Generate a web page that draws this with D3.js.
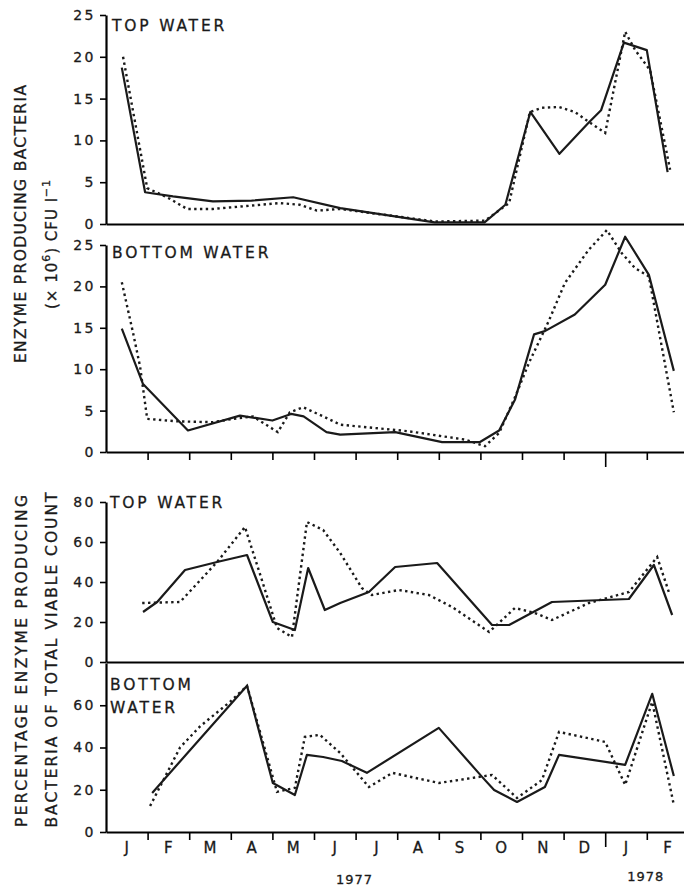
<!DOCTYPE html>
<html>
<head>
<meta charset="utf-8">
<script src="https://cdn.jsdelivr.net/npm/d3@7"></script>
<style>
  body { margin: 0; background: #fff; }
  svg { display: block; font-family: 'DejaVu Sans', sans-serif; }
  svg text { stroke: #1a1a1a; stroke-width: 0.3px; }
</style>
</head>
<body>
<svg id="chart" width="684" height="888"></svg>
<script>
const monthLabels = ['J', 'F', 'M', 'A', 'M', 'J', 'J', 'A', 'S', 'O', 'N', 'D', 'J', 'F'];
const yearLabels = [{ label: '1977', month: 6 }, { label: '1978', month: 13 }];
const cfuTicks = [0, 5, 10, 15, 20, 25];
const pctTopTicks = [0, 20, 40, 60, 80];
const pctBottomTicks = [0, 20, 40, 60];

// [month, value]  month 0 = start of Jan 1977
const cfuTopSolid = [[0.38, 18.7], [0.94, 3.8], [1.61, 3.3], [2.57, 2.7], [3.5, 2.8], [4.5, 3.2], [5.63, 1.9],
    [7.9, 0.2], [9.1, 0.2], [9.6, 2.3], [10.2, 13.4], [10.9, 8.4], [11.6, 12.1], [11.9, 13.6],
    [12.45, 21.7], [13.0, 20.8], [13.5, 6.2]];
const cfuTopDotted = [[0.41, 20.0], [0.99, 4.3], [1.25, 3.7], [1.54, 3.0], [1.95, 1.8], [2.57, 1.8], [4.18, 2.5],
    [4.66, 2.3], [5.07, 1.6], [5.63, 1.8], [7.91, 0.3], [9.11, 0.4], [9.69, 2.5], [10.19, 13.4],
    [10.48, 13.9], [10.89, 14.0], [11.27, 13.4], [11.61, 12.2], [12.0, 10.9], [12.48, 23.0],
    [12.72, 20.8], [13.08, 18.4], [13.56, 6.5]];
const cfuBottomSolid = [[0.38, 14.9], [0.89, 8.2], [1.97, 2.6], [3.22, 4.4], [4.0, 3.8], [4.45, 4.6], [4.75, 4.3],
    [5.3, 2.4], [5.63, 2.1], [6.95, 2.4], [8.08, 1.2], [8.99, 1.2], [9.45, 2.6], [9.83, 6.3],
    [10.29, 14.2], [10.55, 14.6], [11.27, 16.6], [12.0, 20.2], [12.48, 26.0], [13.05, 21.4], [13.65, 9.8]];
const cfuBottomDotted = [[0.38, 20.5], [0.65, 14.4], [0.82, 10.3], [0.99, 4.0], [1.71, 3.7], [2.57, 3.6],
    [3.05, 4.0], [3.53, 4.3], [4.13, 2.4], [4.42, 4.8], [4.74, 5.4], [5.22, 4.3], [5.63, 3.3],
    [7.28, 2.5], [8.63, 1.5], [9.11, 0.7], [9.45, 2.3], [9.83, 6.6], [10.17, 10.8], [10.65, 15.9],
    [11.03, 20.4], [11.6, 24.4], [12.04, 26.8], [12.4, 24.0], [12.72, 22.2], [13.05, 21.2], [13.65, 4.8]];
const pctTopSolid = [[0.89, 25], [1.23, 30], [1.9, 46], [2.67, 50], [3.39, 53.5], [4.01, 20], [4.54, 16],
    [4.86, 47], [5.26, 26], [5.63, 29.5], [6.32, 35], [6.95, 47.5], [7.96, 49.5], [9.28, 18.5],
    [9.69, 18.5], [10.72, 30], [12.57, 31.5], [13.17, 48.5], [13.61, 23.5]];
const pctTopDotted = [[0.87, 29.5], [1.78, 30], [2.67, 50], [3.34, 67.5], [3.77, 39.5], [4.11, 17], [4.47, 12.5],
    [4.83, 70], [5.22, 66], [5.63, 54.5], [6.15, 37], [6.39, 33.5], [7.04, 36], [7.76, 33.5],
    [8.32, 27.5], [9.21, 15], [9.83, 27], [10.31, 24.5], [10.72, 21], [11.61, 29.5], [12.57, 35],
    [13.25, 52.5], [13.53, 35]];
const pctBottomSolid = [[1.11, 18.5], [3.39, 69.2], [4.01, 23.2], [4.54, 17.5], [4.83, 36.5], [5.22, 35.5],
    [5.67, 33.6], [6.27, 28.0], [8.0, 49.3], [9.04, 26.1], [9.33, 19.9], [9.88, 14.2], [10.55, 21.3],
    [10.89, 36.5], [12.48, 31.8], [13.13, 65.4], [13.65, 26.5]];
const pctBottomDotted = [[1.06, 12.3], [1.78, 40], [2.26, 50], [2.98, 61.6], [3.39, 69.2], [4.11, 19], [4.54, 20.9],
    [4.78, 45], [5.14, 46], [5.63, 37.4], [6.32, 21.3], [6.88, 28], [8.0, 23.2], [9.28, 27],
    [9.88, 16.1], [10.48, 24.6], [10.89, 47.4], [12.0, 42.6], [12.48, 22.3], [13.13, 61.6], [13.65, 12.8]];

const svg = d3.select('#chart');
const x = d3.scaleLinear().domain([0, 14]).range([106, 688.4]);

const panels = [
    { titles: [['TOP WATER', 112, 31]], solid: cfuTopSolid, dotted: cfuTopDotted, ticks: cfuTicks,
      max: 25, top: 15, bottom: 224, monthTicks: false },
    { titles: [['BOTTOM WATER', 112, 258]], solid: cfuBottomSolid, dotted: cfuBottomDotted, ticks: cfuTicks,
      max: 25, top: 245, bottom: 452, monthTicks: true },
    { titles: [['TOP WATER', 110, 508]], solid: pctTopSolid, dotted: pctTopDotted, ticks: pctTopTicks,
      max: 80, top: 502, bottom: 662, monthTicks: false },
    { titles: [['BOTTOM', 110, 690], ['WATER', 110, 713]], solid: pctBottomSolid, dotted: pctBottomDotted,
      ticks: pctBottomTicks, max: 80, top: 663, bottom: 832, monthTicks: true }
];

const drawPanel = (p) => {
    const y = d3.scaleLinear().domain([0, p.max]).range([p.bottom, p.top]);

    // y axis
    const yAxis = svg.append('g')
        .attr('transform', `translate(${x(0)},0)`)
        .call(d3.axisLeft(y).tickValues(p.ticks).tickSize(6).tickSizeOuter(0).tickPadding(4));
    yAxis.attr('font-size', null).attr('font-family', null);
    yAxis.select('.domain').attr('stroke-width', 2.2);
    yAxis.selectAll('.tick line').attr('stroke-width', 1.6);
    yAxis.selectAll('.tick text')
        .style('font-size', '14px')
        .style('letter-spacing', '2.5px')
        .attr('fill', '#1a1a1a');

    // x axis line
    const xAxis = svg.append('g')
        .attr('transform', `translate(0,${p.bottom})`)
        .call(d3.axisBottom(x).tickValues(p.monthTicks ? d3.range(1, 14) : []).tickSize(8).tickSizeOuter(0).tickFormat(''));
    xAxis.select('.domain').attr('stroke-width', 2.2);
    xAxis.selectAll('.tick line')
        .attr('stroke-width', 1.6)
        .attr('y2', d => d === 12 ? 15 : 8);

    // panel title
    p.titles.forEach(t => {
        svg.append('text')
            .attr('x', t[1])
            .attr('y', t[2])
            .style('font-size', '15.5px')
            .style('letter-spacing', '2.8px')
            .attr('fill', '#1a1a1a')
            .text(t[0]);
    });

    const line = d3.line()
        .x(d => x(d[0]))
        .y(d => y(d[1]));

    svg.append('path')
        .datum(p.solid)
        .attr('fill', 'none')
        .attr('stroke', '#1a1a1a')
        .attr('stroke-width', 2.2)
        .attr('stroke-linejoin', 'round')
        .attr('d', line);

    svg.append('path')
        .datum(p.dotted)
        .attr('fill', 'none')
        .attr('stroke', '#1a1a1a')
        .attr('stroke-width', 2.4)
        .attr('stroke-dasharray', '2.4 3.4')
        .attr('d', line);
};

panels.forEach(drawPanel);

// month labels
svg.append('g')
    .selectAll('text')
    .data(monthLabels)
    .join('text')
    .attr('x', (d, i) => x(i + 0.5))
    .attr('y', 853)
    .attr('text-anchor', 'middle')
    .style('font-size', '15px')
    .attr('fill', '#1a1a1a')
    .text(d => d);

// year labels
svg.append('g')
    .selectAll('text')
    .data(yearLabels)
    .join('text')
    .attr('x', d => x(d.month) - 1)
    .attr('y', d => d.label === '1977' ? 884 : 881)
    .attr('text-anchor', 'middle')
    .style('font-size', '13px')
    .style('letter-spacing', '1px')
    .attr('fill', '#1a1a1a')
    .text(d => d.label);

// y labels
const yLabel = (txt, cx, cy, len) => svg.append('text')
    .attr('transform', `translate(${cx},${cy}) rotate(-90)`)
    .attr('text-anchor', 'middle')
    .attr('dominant-baseline', 'central')
    .attr('textLength', len)
    .attr('lengthAdjust', 'spacing')
    .style('font-size', '15.5px')
    .attr('fill', '#1a1a1a')
    .text(txt);

yLabel('ENZYME PRODUCING BACTERIA', 21, 224, 278);
yLabel('PERCENTAGE ENZYME PRODUCING', 22, 661, 332);
yLabel('BACTERIA OF TOTAL VIABLE COUNT', 52, 660, 335);

const unitLabel = svg.append('text')
    .attr('transform', 'translate(52,244) rotate(-90)')
    .attr('text-anchor', 'middle')
    .attr('dominant-baseline', 'central')
    .style('font-size', '15px')
    .style('letter-spacing', '1px')
    .attr('fill', '#1a1a1a');
unitLabel.append('tspan').text('(× 10');
unitLabel.append('tspan').attr('dy', -6).style('font-size', '11px').text('6');
unitLabel.append('tspan').attr('dy', 6).text(') CFU l');
unitLabel.append('tspan').attr('dy', -6).style('font-size', '11px').text('−1');
</script>
</body>
</html>
